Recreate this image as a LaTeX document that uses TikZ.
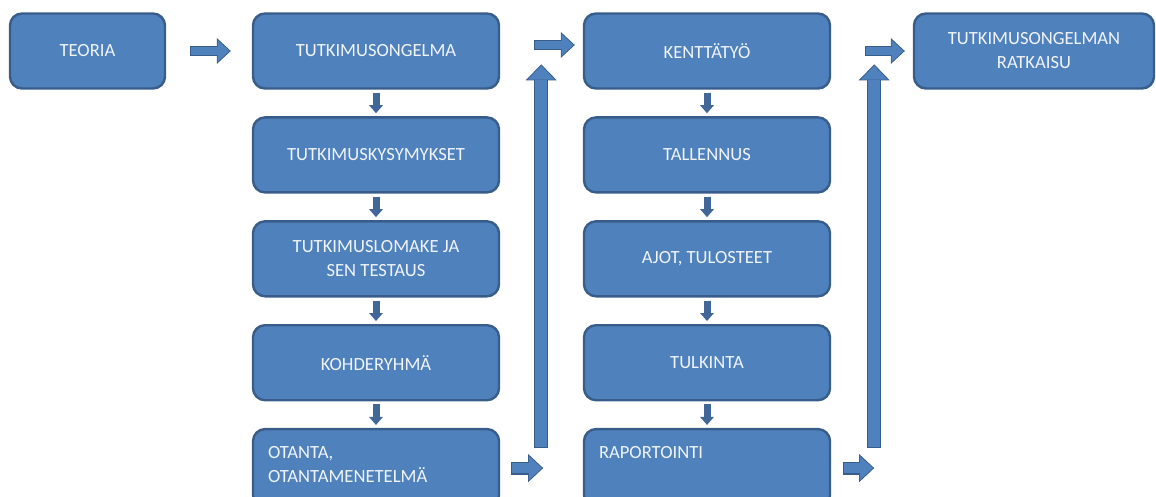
\documentclass[tikz,border=0pt]{standalone}
\usepackage{fontspec}
\usepackage{xcolor}
\usepackage{tikz}
\usetikzlibrary{arrows.meta, positioning, calc}
\newfontfamily\boxfont{Carlito}
\definecolor{boxblue}{RGB}{79,129,189}
\definecolor{boxline}{RGB}{56,93,138}
\definecolor{boxtext}{RGB}{240,244,250}
\definecolor{arrowdark}{RGB}{64,103,152}

\begin{document}
\begin{tikzpicture}[x=1pt, y=-1pt,
    stepbox/.style={draw=boxline, line width=2.4pt, fill=boxblue, rounded corners=12pt,
        minimum width=246pt, minimum height=75pt, text=boxtext,
        font=\boxfont\fontsize{18.6}{24}\selectfont, align=center},
    topbox/.style={stepbox, align=left, text width=216pt, inner xsep=15pt, inner ysep=16pt,
        text height=13pt, text depth=33pt},
    arrowbody/.style n args={6}{draw=boxblue, line width=#4, shorten >=1.3pt, shorten <=1.2pt,
        -{Triangle[width=#5, length=#6, line width=0pt]},
        preaction={draw=boxline, line width=#1, shorten >=0pt, shorten <=0pt,
        -{Triangle[width=#2, length=#3, line width=0pt]}}},
    flatarrow/.style={arrowbody={10.5pt}{26pt}{14pt}{8pt}{22pt}{12pt}},
    tallarrow/.style={arrowbody={14.5pt}{31pt}{16pt}{12pt}{27pt}{14pt}},
    lowarrow/.style={arrowbody={13pt}{28pt}{15pt}{10.5pt}{24pt}{13pt}},
    downarrow/.style={draw=arrowdark, line width=7pt, -{Triangle[width=14pt, length=8pt, line width=0pt]}}]
    \useasboundingbox (0,0) rectangle (1156,497);
    % first column
    \node[stepbox, minimum width=155pt] (teoria) at (87.5,51) {TEORIA};
    % second column
    \node[stepbox] (ongelma) at (376,51) {TUTKIMUSONGELMA};
    \node[stepbox, below=26.5pt of ongelma] (kysymykset) {TUTKIMUSKYSYMYKSET};
    \node[stepbox, below=26.5pt of kysymykset] (lomake) {TUTKIMUSLOMAKE JA\\SEN TESTAUS};
    \node[stepbox, below=26.5pt of lomake] (kohde) {KOHDERYHMÄ};
    \node[topbox, below=26.5pt of kohde] (otanta) {OTANTA,\\OTANTAMENETELMÄ};
    % third column
    \node[stepbox] (kentta) at (707,51) {KENTTÄTYÖ};
    \node[stepbox, below=26.5pt of kentta] (tallennus) {TALLENNUS};
    \node[stepbox, below=26.5pt of tallennus] (ajot) {AJOT, TULOSTEET};
    \node[stepbox, below=26.5pt of ajot] (tulkinta) {TULKINTA};
    \node[topbox, below=26.5pt of tulkinta] (raport) {RAPORTOINTI};
    % result
    \node[stepbox, minimum width=240pt] (ratkaisu) at (1034,51) {TUTKIMUSONGELMAN\\RATKAISU};

    \draw[downarrow] ([yshift=-3pt]ongelma.south) -- ([yshift=3pt]kysymykset.north);
    \draw[downarrow] ([yshift=-3pt]kysymykset.south) -- ([yshift=3pt]lomake.north);
    \draw[downarrow] ([yshift=-3pt]lomake.south) -- ([yshift=3pt]kohde.north);
    \draw[downarrow] ([yshift=-3pt]kohde.south) -- ([yshift=3pt]otanta.north);
    \draw[downarrow] ([yshift=-3pt]kentta.south) -- ([yshift=3pt]tallennus.north);
    \draw[downarrow] ([yshift=-3pt]tallennus.south) -- ([yshift=3pt]ajot.north);
    \draw[downarrow] ([yshift=-3pt]ajot.south) -- ([yshift=3pt]tulkinta.north);
    \draw[downarrow] ([yshift=-3pt]tulkinta.south) -- ([yshift=3pt]raport.north);

    \draw[flatarrow] ([xshift=24pt]teoria.east) -- ([xshift=-21pt]teoria.east -| ongelma.west);
    \draw[flatarrow] ([xshift=34pt,yshift=6pt]ongelma.east) -- ([xshift=-8pt,yshift=6pt]ongelma.east -| kentta.west);
    \draw[flatarrow] ([xshift=34pt]kentta.east) -- ([xshift=-8pt]kentta.east -| ratkaisu.west);
    \draw[tallarrow] ([xshift=41pt,yshift=-20pt]otanta.north east) -- ([xshift=41pt,yshift=-52pt]ongelma.north east);
    \draw[tallarrow] ([xshift=43pt,yshift=-20pt]raport.north east) -- ([xshift=43pt,yshift=-52pt]kentta.north east);
    \draw[lowarrow] ([xshift=11pt]otanta.east) -- ([xshift=43pt]otanta.east);
    \draw[lowarrow] ([xshift=12pt]raport.east) -- ([xshift=43pt]raport.east);
\end{tikzpicture}
\end{document}
